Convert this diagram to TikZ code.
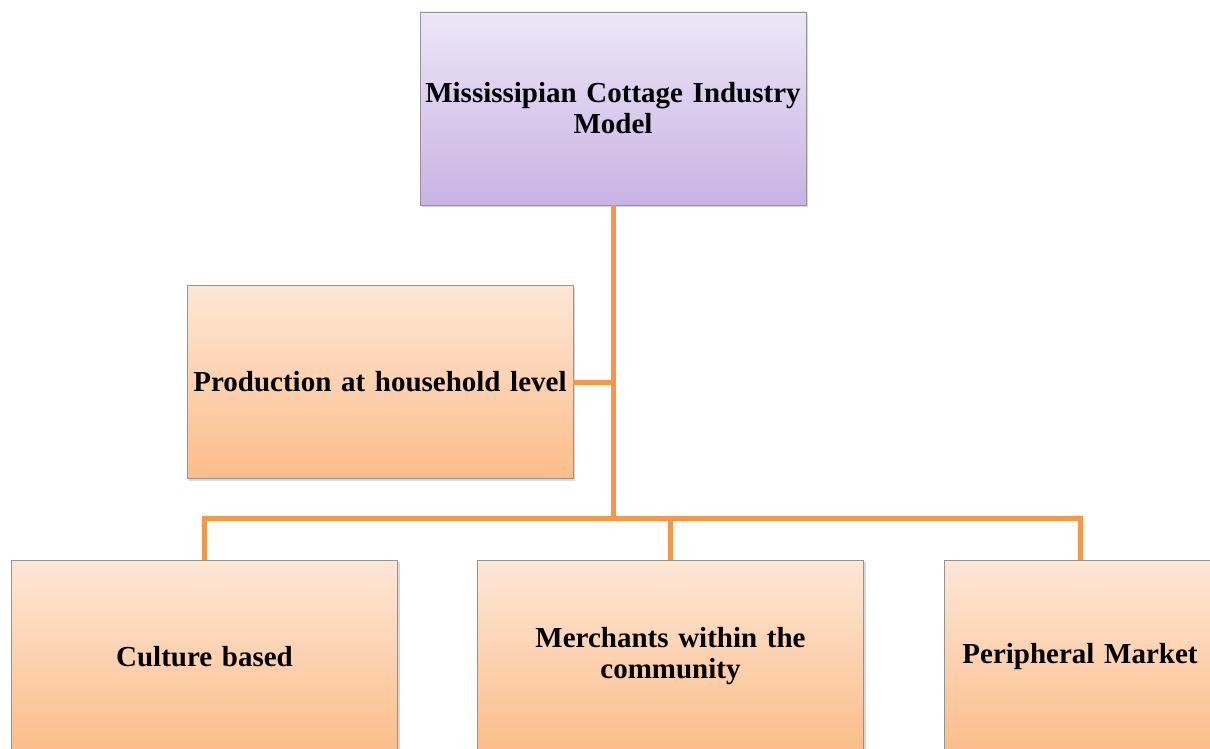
\documentclass[tikz,border=0pt]{standalone}
\usepackage{fontspec}
\setmainfont{Liberation Serif}
\usepackage{xcolor}
\usepackage{tikz}
\usetikzlibrary{shadows}

\definecolor{lilactop}{HTML}{EDE6F7}
\definecolor{lilacbot}{HTML}{C8B3E4}
\definecolor{peachtop}{HTML}{FDE7D6}
\definecolor{peachbot}{HTML}{FBBD8A}
\definecolor{linkorange}{HTML}{F79646}

\begin{document}
\begin{tikzpicture}[x=1pt, y=-1pt,
	box/.style={align=center, draw=gray!85, line width=0.8pt, minimum height=193pt, inner sep=3pt,
		font=\fontsize{29}{31}\selectfont\bfseries, drop shadow={opacity=0.3, shadow xshift=2pt, shadow yshift=-2pt}},
	headbox/.style={box, top color=lilactop, bottom color=lilacbot, minimum width=386pt, text width=380pt},
	leafbox/.style={box, top color=peachtop, bottom color=peachbot, minimum width=386pt, text width=380pt},
	link/.style={draw=linkorange, line width=5pt, line cap=butt}]
	\useasboundingbox (0, 0) rectangle (1210, 749);
	\begin{scope}
		\clip (0, 0) rectangle (1210, 749);
		
		\node[headbox] (M) at (613, 108.5) {Mississipian Cottage Industry\\Model};
		\node[leafbox] (P) at (380, 382) {Production at household level};
		
		\node[leafbox] (C1) at (204.5, 656.5) {Culture based};
		\node[leafbox] (C2) at (670.5, 656.5) {Merchants within the\\community};
		\node[leafbox, minimum width=272pt, text width=266pt] (C3) at (1080, 656.5) {Peripheral Market};
	\end{scope}
	
	\coordinate (bus) at (613, 518);
	
	\draw[link] (M.south) -- (bus);
	\draw[link] (P.east) -- (P.east -| M.south);
	\draw[link] (C1.north) |- (bus);
	\draw[link] (C3.north) |- (bus);
	\draw[link] (C2.north) -- (C2.north |- bus);
\end{tikzpicture}
\end{document}
